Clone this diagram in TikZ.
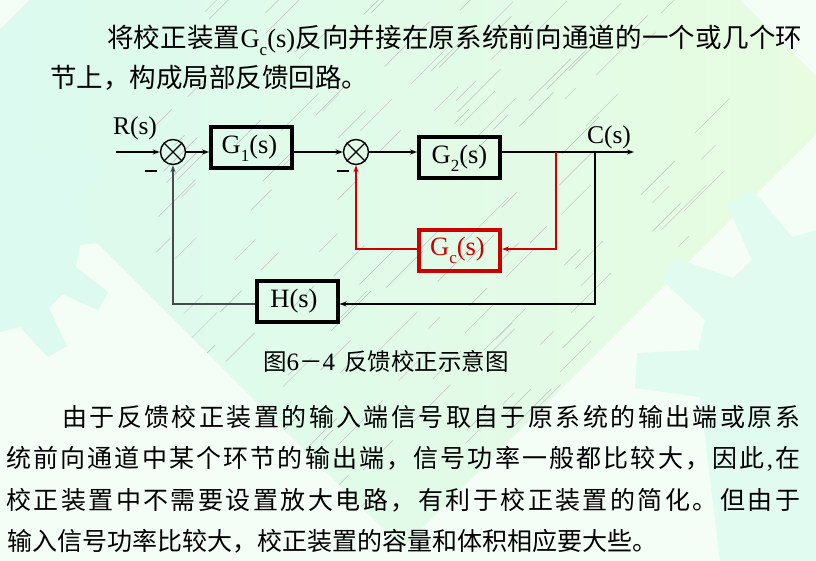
\documentclass[tikz,border=0pt]{standalone}
\usepackage{fontspec}
\setmainfont{Noto Sans CJK SC}
\newfontfamily\lat{Liberation Serif}
\usetikzlibrary{arrows.meta}
\definecolor{bgbase}{HTML}{F4FEF6}
\definecolor{bgcyan}{HTML}{DCFAEF}
\definecolor{bggreen}{HTML}{E7FCE1}
\definecolor{cred}{HTML}{CC0000}
\definecolor{fbgray}{HTML}{4A4A4A}
\makeatletter
\def\jl@a#1{#1\jl@b}
\def\jl@b#1{\ifx\jl@stop#1\else\hfil#1\expandafter\jl@b\fi}
\def\jl@stop{\jl@stop}
\newcommand\jline[2]{\makebox[#1][s]{\jl@a#2\jl@stop}}
\makeatother
\newcommand\lsub[1]{\raisebox{-0.3em}{\fontsize{17}{17}\selectfont #1}}
\newcommand\Gcs{{\lat G\lsub{c}(s)}}
\newcommand\lcm{{\lat ,}}
\begin{document}
\begin{tikzpicture}[x=1pt,y=-1pt,
  txt/.style={inner sep=0pt, font=\fontsize{25}{30}\selectfont, anchor=base west},
  toptxt/.style={inner sep=0pt, font=\fontsize{26.5}{32}\selectfont, anchor=base west},
  blk/.style={draw=black, line width=4pt, minimum width=81pt, minimum height=41pt, inner sep=0pt,
    font=\lat\fontsize{26.5}{30}\selectfont},
  redblk/.style={blk, draw=cred, text=cred},
  sumc/.style={circle, draw=black, line width=1.4pt, minimum size=25pt, inner sep=0pt},
  lbl/.style={inner sep=0pt, font=\lat\fontsize{25.5}{30}\selectfont},
  minus/.style={fill=black, minimum width=12pt, minimum height=2.7pt, inner sep=0pt},
  sig/.style={line width=1.2pt, -{Stealth[length=7pt,width=5pt]}},
  hatch/.style={line width=0.45pt, gray!50}]
% ---------- background ----------
\useasboundingbox (0,0) rectangle (816,561);
\fill[bgbase] (0,0) rectangle (816,561);
\shade[left color=bgcyan, right color=bggreen]
  (0,30) -- (30,0) -- (740,0) -- (816,76) -- (816,134) -- (402,548) -- (0,146) -- cycle;
% left gear
\fill[bgcyan] (0,140) -- (50,150) -- (58,167) -- (97,154) -- (108,173) -- (75,197) -- (78,212)
  -- (86,213) -- (97,243) -- (80,245) -- (76,267) -- (108,292) -- (98,310) -- (62,294)
  -- (49,308) -- (67,346) -- (48,357) -- (20,327) -- (0,332) -- cycle;
% right gear
\fill[bgcyan!80!bgbase] (727,205) -- (753,190) -- (792,237) -- (816,230) -- (816,561)
  -- (720,561) -- (700,397) -- (635,388) -- (637,353) -- (698,350) -- (705,320)
  -- (662,280) -- (675,258) -- (733,278) -- (752,260) -- cycle;
% hatching
\begin{scope}
\clip (0,30) -- (30,0) -- (740,0) -- (816,76) -- (816,134) -- (402,548) -- (0,146) -- cycle;
\pgfmathsetseed{11}
\foreach \i in {1,...,150}{
  \pgfmathsetmacro\hx{150+560*rnd}
  \pgfmathsetmacro\hy{10+520*rnd}
  \pgfmathsetmacro\hl{10+35*rnd}
  \draw[hatch] (\hx,\hy) -- ++(\hl,-\hl);
}
\end{scope}
% ---------- text ----------
\node[toptxt] (t1) at (107,47.5) {\jline{695pt}{将校正装置\Gcs 反向并接在原系统前向通道的一个或几个环}};
\node[toptxt] (t2) at (50,87.5) {节上，构成局部反馈回路。};
\node[txt] (b1) at (62,426) {\jline{738pt}{由于反馈校正装置的输入端信号取自于原系统的输出端或原系}};
\node[txt] (b2) at (6,467.5) {\jline{794pt}{统前向通道中某个环节的输出端，信号功率一般都比较大，因此\lcm 在}};
\node[txt] (b3) at (6,509) {\jline{794pt}{校正装置中不需要设置放大电路，有利于校正装置的简化。但由于}};
\node[txt] (b4) at (7,550.5) {输入信号功率比较大，校正装置的容量和体积相应要大些。};
\node[inner sep=0pt, anchor=base west, font=\fontsize{23.5}{28}\selectfont] (cap) at (263,370)
  {图{\lat\fontsize{25}{30}\selectfont 6}－{\lat\fontsize{25}{30}\selectfont 4}\hspace{9pt}反馈校正示意图};
% ---------- diagram ----------
\coordinate (in) at (116,152);
\node[lbl] (R) at (135,128) {R(s)};
\node[sumc] (s1) at (173,152) {};
\node[blk] (g1) at (251.5,148) {\hspace{-4pt}G\lsub{1}(s)};
\node[sumc] (s2) at (356,152) {};
\node[blk] (g2) at (459.5,158) {G\lsub{2}(s)};
\coordinate (out) at (634,152);
\node[lbl] (C) at (609,137) {C(s)};
\node[redblk] (gc) at (459.5,250.5) {\hspace{-4pt}G\lsub{c}(s)};
\node[blk] (h) at (297,301.5) {\hspace{-6pt}H(s)};
\node[minus] (m1) at (151,171) {};
\node[minus] (m2) at (343,171) {};
\coordinate (pr) at (556,152);
\coordinate (pb) at (595,152);
\coordinate (hl) at (595,304);
\coordinate (rl) at (556,249);
\foreach \s in {s1,s2}{
  \draw[line width=1.2pt] (\s.north west) -- (\s.south east) (\s.north east) -- (\s.south west);
}
\draw[sig] (in) -- (s1.west);
\draw[sig] (s1.east) -- (g1.west |- s1);
\draw[sig] (g1.east |- s1) -- (s2.west);
\draw[sig] (s2.east) -- (g2.west |- s2);
\draw[sig] (g2.east |- s2) -- (out);
\draw[sig, cred] (pr) |- (gc.east |- rl);
\draw[sig, cred] (gc.west |- rl) -| (s2.south);
\draw[sig, line width=1.8pt] (pb) |- (h.east |- hl);
\draw[sig, fbgray, line width=1.8pt] (h.west |- hl) -| (s1.south);
\end{tikzpicture}
\end{document}
